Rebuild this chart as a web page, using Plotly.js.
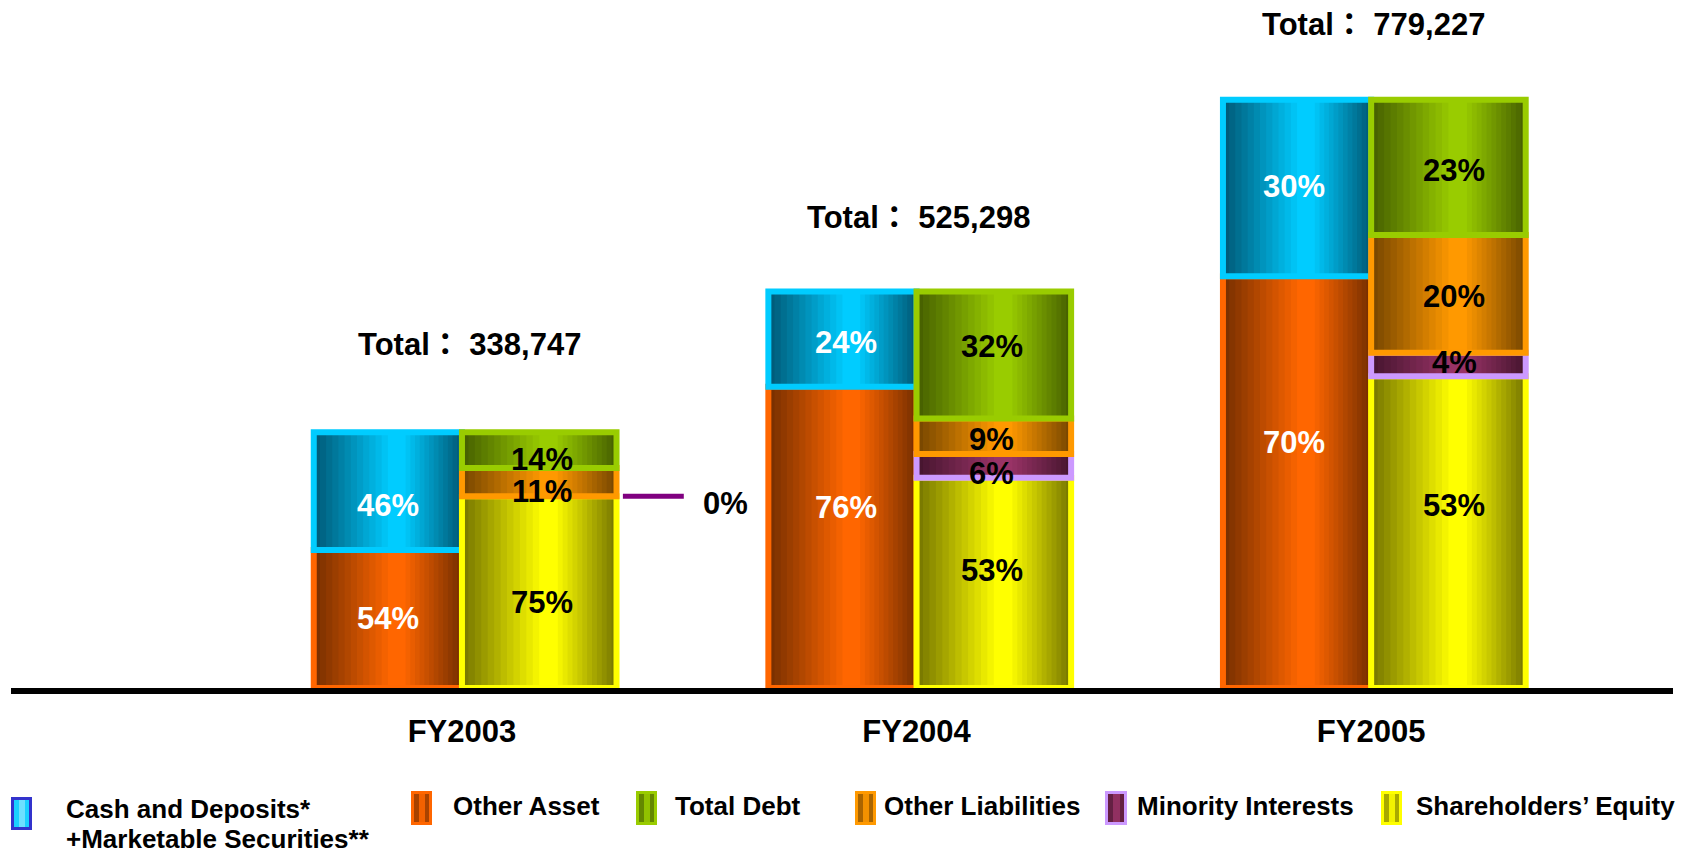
<!DOCTYPE html>
<html><head><meta charset="utf-8">
<script src="https://cdn.plot.ly/plotly-3.0.1.min.js"></script>
<style>html,body{margin:0;padding:0;background:#fff;}#chart{width:1682px;height:855px;}</style>
</head><body><div id="chart"></div>
<script>
// ---- DATA ----
const years = ['FY2003', 'FY2004', 'FY2005'];
const totals = [338747, 525298, 779227];
const cashPct = [46, 24, 30];
const otherAssetPct = [54, 76, 70];
const debtPct = [14, 32, 23];
const otherLiabPct = [11, 9, 20];
const minorityPct = [0, 6, 4];
const equityPct = [75, 53, 53];
const legendLabels = [['Cash and Deposits*', '+Marketable Securities**'], ['Other Asset'], ['Total Debt'],
  ['Other Liabilities'], ['Minority Interests'], ['Shareholders’ Equity']];

// ---- STYLE ----
const FONT = 'Liberation Sans, Arial, Noto Sans CJK JP, sans-serif';
const sides = {
  A: {offset: -0.326, width: 0.326, xshift: [0, 4, -3]},
  L: {offset: 0, width: 0.34, xshift: [3, -2, 6]}
};
// stacking order bottom->top per side; lblShift = vertical label nudges (px)
const series = [
  {key: 'oa', pct: otherAssetPct, side: 'A', bright: [255, 102, 0], dark: [122, 48, 0], border: '#ff6600', text: '#ffffff', lblShift: [0, 30, 40]},
  {key: 'cash', pct: cashPct, side: 'A', bright: [0, 204, 255], dark: [0, 92, 122], border: '#00ccff', text: '#ffffff', lblShift: [-14, -3, 2]},
  {key: 'eq', pct: equityPct, side: 'L', bright: [255, 255, 0], dark: [122, 122, 0], border: '#ffff00', text: '#000000', lblShift: [-10, 12, 27]},
  {key: 'mi', pct: minorityPct, side: 'L', bright: [153, 51, 102], dark: [72, 22, 48], border: '#cc99ff', text: '#000000', lblShift: [0, -8, 2]},
  {key: 'ol', pct: otherLiabPct, side: 'L', bright: [255, 153, 0], dark: [122, 72, 0], border: '#ff9900', text: '#000000', lblShift: [-9, -3, -3]},
  {key: 'debt', pct: debtPct, side: 'L', bright: [153, 204, 0], dark: [72, 98, 0], border: '#99cc00', text: '#000000', lblShift: [-9, 8, -3]}
];

const N = 12;
function mix(c1, c2, t) {
  return 'rgb(' + c1.map((v, i) => Math.round(v + (c2[i] - v) * t)).join(',') + ')';
}

const cum = {A: [0, 0, 0], L: [0, 0, 0]};
const traces = [];
const annotations = [];
const bases = {};
series.forEach(s => {
  const vals = totals.map((t, i) => t * s.pct[i] / 100);
  const base = cum[s.side].slice();
  cum[s.side] = cum[s.side].map((c, i) => c + vals[i]);
  bases[s.key] = base;
  const g = sides[s.side];
  for (let i = 0; i <= N; i++) {
    const a = 0.5 * i / N, b = 1 - 0.38 * i / N, t = i / N;
    traces.push({
      type: 'bar', x: years, y: vals, base: base,
      offset: g.offset + a * g.width, width: (b - a) * g.width,
      marker: {color: mix(s.dark, s.bright, t), line: {width: 0}},
      hoverinfo: 'skip', showlegend: false
    });
  }
  traces.push({
    type: 'bar', x: years, y: vals, base: base,
    offset: g.offset, width: g.width,
    marker: {color: 'rgba(0,0,0,0)', line: {color: s.border, width: vals.map(v => v > 0 ? 6 : 0)}},
    hoverinfo: 'skip', showlegend: false
  });
  s.pct.forEach((p, i) => {
    if (p > 0) {
      annotations.push({
        x: i + g.offset + g.width / 2, y: base[i] + vals[i] / 2, xref: 'x', yref: 'y',
        showarrow: false, xshift: g.xshift[i], yshift: s.lblShift[i], yanchor: 'middle',
        text: p + '%', font: {family: FONT, size: 31, color: s.text, weight: 'bold'}
      });
    }
  });
});

// ---- TOTALS ----
const totalShift = [{x: 8, y: 88}, {x: 2, y: 74}, {x: 2, y: 75}];
totals.forEach((t, i) => annotations.push({
  x: years[i], y: t, xref: 'x', yref: 'y', showarrow: false,
  xshift: totalShift[i].x, yshift: totalShift[i].y, yanchor: 'middle',
  text: 'Total：\u00a0' + t.toLocaleString('en-US'),
  font: {family: FONT, size: 31, color: '#000', weight: 'bold'}
}));

// zero-value call-out for Minority Interests
const shapes = [];
minorityPct.forEach((p, i) => {
  if (p === 0) {
    const yv = bases.mi[i];
    shapes.push({type: 'line', xref: 'x', yref: 'y', x0: i + 0.354, x1: i + 0.488, y0: yv, y1: yv,
      line: {color: '#800080', width: 5}});
    annotations.push({x: i + 0.579, y: yv, xref: 'x', yref: 'y', showarrow: false, yshift: -7,
      text: p + '%', font: {family: FONT, size: 31, color: '#000', weight: 'bold'}});
  }
});

// ---- CUSTOM LEGEND ----
const PL = 11, PW = 1662, PB = 688, PH = 668;
const px = v => (v - PL) / PW;
const py = v => (PB - v) / PH;
const legendOrder = ['cash', 'oa', 'debt', 'ol', 'mi', 'eq'];
const iconPos = [[11, 32, 797, 830], [411, 432, 791, 825], [636, 657, 791, 825], [855, 876, 791, 825], [1105, 1127, 791, 825], [1381, 1402, 791, 825]];
const textPos = [[64, 809], [451, 806], [673, 806], [882, 806], [1135, 806], [1414, 806]];
const lineGap = 30;
legendOrder.forEach((k, i) => {
  const s = series.find(q => q.key === k);
  const [x0, x1, y0, y1] = iconPos[i];
  const bord = k === 'cash' ? '#3333cc' : s.border;
  shapes.push({type: 'rect', xref: 'paper', yref: 'paper', x0: px(x0 + 1.5), x1: px(x1 - 1.5), y0: py(y1 - 1.5), y1: py(y0 + 1.5),
    fillcolor: k === 'cash' ? mix(s.bright, [255, 255, 255], 0.1) : mix(s.dark, s.bright, 0.35), line: {color: bord, width: 3}});
  shapes.push({type: 'rect', xref: 'paper', yref: 'paper', x0: px(x0 + 8), x1: px(x1 - 7), y0: py(y1 - 3), y1: py(y0 + 3),
    fillcolor: k === 'cash' ? 'rgb(110,225,255)' : mix(s.dark, s.bright, 0.9), line: {width: 0}});
  legendLabels[i].forEach((line, j) => {
    annotations.push({xref: 'paper', yref: 'paper', x: px(textPos[i][0]), y: py(textPos[i][1] + j * lineGap),
      xanchor: 'left', yanchor: 'middle', align: 'left', showarrow: false, text: line,
      font: {family: FONT, size: 26, color: '#000', weight: 'bold'}});
  });
});

const layout = {
  width: 1682, height: 855,
  margin: {l: 11, r: 9, t: 20, b: 167},
  paper_bgcolor: '#ffffff', plot_bgcolor: '#ffffff',
  barmode: 'overlay', showlegend: false,
  xaxis: {type: 'category', range: [-0.992, 2.664], showgrid: false, zeroline: false,
    showline: true, linecolor: '#000', linewidth: 6, ticks: '', ticklabelstandoff: 11,
    tickfont: {family: FONT, size: 31, color: '#000', weight: 'bold'}, fixedrange: true},
  yaxis: {range: [0, 885000], visible: false, fixedrange: true},
  annotations: annotations, shapes: shapes
};

Plotly.newPlot('chart', traces, layout, {displayModeBar: false, staticPlot: true});
</script>
</body></html>
